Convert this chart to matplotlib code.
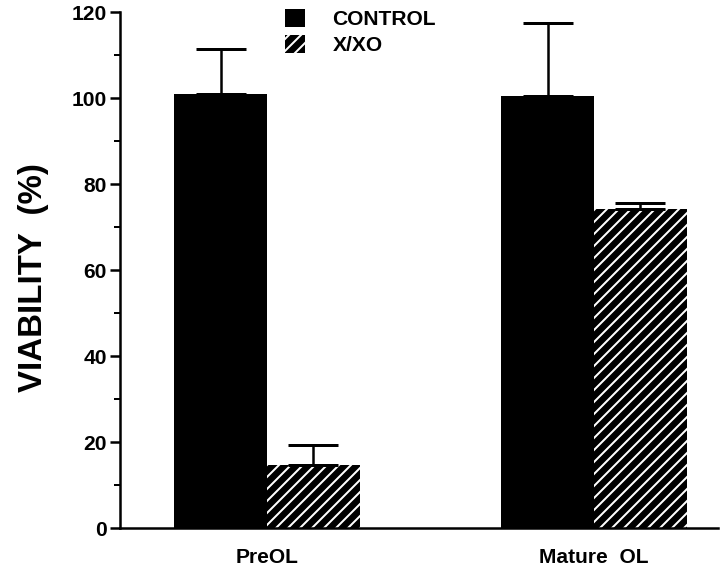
import matplotlib.pyplot as plt
from matplotlib.patches import Patch
from matplotlib.ticker import MultipleLocator

plt.rcParams['font.family'] = ['Liberation Sans', 'DejaVu Sans']
plt.rcParams['font.weight'] = 'bold'
plt.rcParams['hatch.color'] = 'white'
plt.rcParams['hatch.linewidth'] = 2.0

# Data
groups = ["PreOL", "Mature  OL"]
control = [101.0, 100.5]
control_err = [10.5, 17.0]
xxo = [14.6, 74.3]
xxo_err = [4.6, 1.3]

fig = plt.figure(figsize=(10, 569 / 72), dpi=72)
ax = fig.add_axes([120 / 720, 41 / 569, 598 / 720, 516 / 569])

x = [0, 1]
w = 0.284
ax.bar([p - w / 2 for p in x], control, w, color='black', edgecolor='black',
       linewidth=0, yerr=[[0, 0], control_err], capsize=25,
       error_kw=dict(elinewidth=2.5, capthick=3, ecolor='black'))
ax.bar([p + w / 2 for p in x], xxo, w, color='black', edgecolor='white',
       linewidth=0, hatch='//', yerr=[[0, 0], xxo_err], capsize=25,
       error_kw=dict(elinewidth=2.5, capthick=3, ecolor='black'))

ax.set_xlim(-0.4495, 1.379)
ax.set_ylim(0, 120)
ax.yaxis.set_major_locator(MultipleLocator(20))
ax.yaxis.set_minor_locator(MultipleLocator(10))
ax.set_xticks(x)
ax.set_xticklabels(groups, fontsize=21, fontweight='bold')
ax.tick_params(axis='x', length=0, pad=20)
ax.tick_params(axis='y', which='major', length=10, width=2.5, labelsize=21, pad=3)
ax.tick_params(axis='y', which='minor', length=6, width=2)
ax.spines['top'].set_visible(False)
ax.spines['right'].set_visible(False)
ax.spines['left'].set_linewidth(2.5)
ax.spines['bottom'].set_linewidth(2.5)
ax.set_ylabel("VIABILITY  (%)", fontsize=33, fontweight='bold')
ax.yaxis.set_label_coords(-0.118, 0.485)

handles = [Patch(facecolor='black', edgecolor='black', linewidth=0),
           Patch(facecolor='black', edgecolor='white', hatch='//', linewidth=0)]
fig.legend(handles, ["CONTROL", "X/XO"], loc='upper left',
           bbox_to_anchor=(283 / 720, 1 - 7 / 569), frameon=False,
           fontsize=21, handlelength=0.95, handleheight=0.95,
           handletextpad=1.3, labelspacing=0.25, borderpad=0.1,
           borderaxespad=0)

fig.savefig("out.png", dpi=72)
